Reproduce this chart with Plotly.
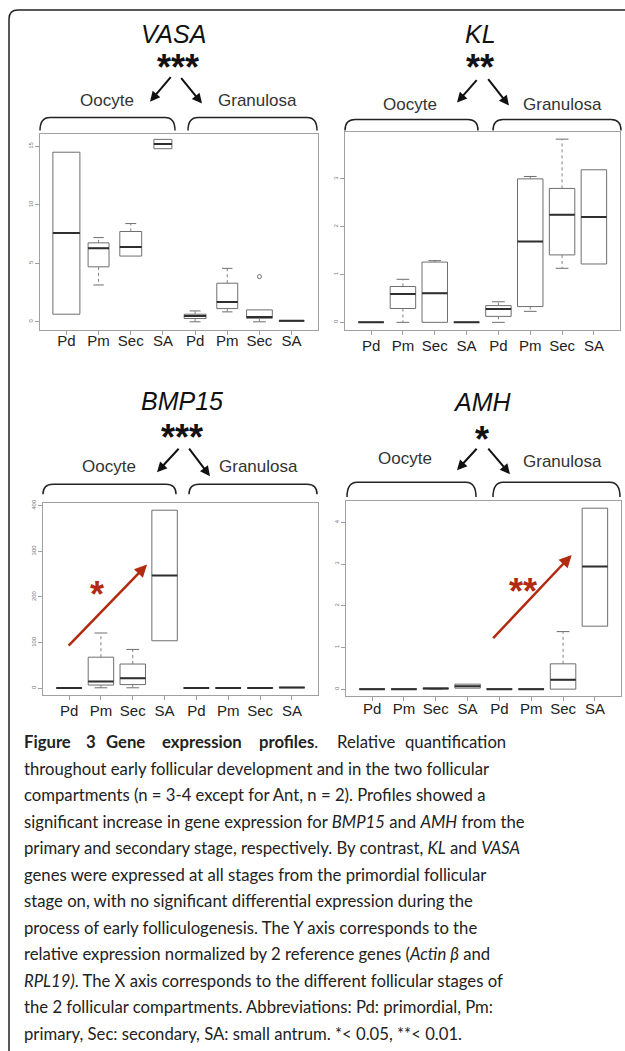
import plotly.graph_objects as go

W, H = 625, 1051

# ---------------- data ----------------
stages = ["Pd", "Pm", "Sec", "SA", "Pd", "Pm", "Sec", "SA"]
positions = [1, 2, 3, 4, 5, 6, 7, 8]
genes = ["VASA", "KL", "BMP15", "AMH"]
gene_stars = ["***", "**", "***", "*"]

vasa_q1 = [0.65, 4.70, 5.62, 14.80, 0.28, 1.13, 0.30, 0.05]
vasa_med = [7.60, 6.30, 6.40, 15.20, 0.50, 1.70, 0.42, 0.08]
vasa_q3 = [14.50, 6.75, 7.72, 15.60, 0.65, 3.30, 1.02, 0.11]
vasa_lo = [0.65, 3.15, 5.62, 14.80, 0.00, 0.85, 0.00, 0.05]
vasa_hi = [14.50, 7.20, 8.40, 15.60, 0.93, 4.57, 1.02, 0.11]
vasa_out_x = [7]
vasa_out_y = [3.86]

kl_q1 = [0.00, 0.29, 0.00, 0.00, 0.125, 0.33, 1.41, 1.22]
kl_med = [0.00, 0.59, 0.61, 0.00, 0.28, 1.69, 2.25, 2.20]
kl_q3 = [0.00, 0.75, 1.26, 0.00, 0.35, 3.00, 2.80, 3.19]
kl_lo = [0.00, 0.00, 0.00, 0.00, 0.00, 0.23, 1.13, 1.22]
kl_hi = [0.00, 0.90, 1.29, 0.00, 0.43, 3.05, 3.83, 3.19]

bmp15_q1 = [0.0, 7.0, 8.0, 104.0, 0.0, 0.0, 0.0, 1.0]
bmp15_med = [0.5, 15.0, 22.0, 247.0, 0.5, 0.5, 0.5, 1.5]
bmp15_q3 = [1.0, 68.0, 53.0, 390.0, 1.0, 1.0, 1.0, 2.0]
bmp15_lo = [0.0, 1.0, 1.0, 104.0, 0.0, 0.0, 0.0, 1.0]
bmp15_hi = [1.0, 121.0, 85.0, 390.0, 1.0, 1.0, 1.0, 2.0]

amh_q1 = [0.000, 0.000, 0.005, 0.024, 0.000, 0.000, 0.000, 1.51]
amh_med = [0.000, 0.000, 0.015, 0.070, 0.000, 0.000, 0.224, 2.94]
amh_q3 = [0.010, 0.010, 0.030, 0.120, 0.010, 0.010, 0.607, 4.34]
amh_lo = [0.000, 0.000, 0.000, 0.024, 0.000, 0.000, 0.000, 1.51]
amh_hi = [0.010, 0.010, 0.030, 0.120, 0.010, 0.010, 1.380, 4.34]

vasa_ticks = [0, 5, 10, 15]
kl_ticks = [0, 1, 2, 3]
bmp15_ticks = [0, 100, 200, 300, 400]
amh_ticks = [0, 1, 2, 3, 4]

caption_lines = [
    None,
    "throughout early follicular development and in the two follicular",
    "compartments (n = 3-4 except for Ant, n = 2). Profiles showed a",
    "significant increase in gene expression for <i>BMP15</i> and <i>AMH</i> from the",
    "primary and secondary stage, respectively. By contrast, <i>KL</i> and <i>VASA</i>",
    "genes were expressed at all stages from the primordial follicular",
    "stage on, with no significant differential expression during the",
    "process of early folliculogenesis. The Y axis corresponds to the",
    "relative expression normalized by 2 reference genes (<i>Actin β</i> and",
    "<i>RPL19)</i>. The X axis corresponds to the different follicular stages of",
    "the 2 follicular compartments. Abbreviations: Pd: primordial, Pm:",
    "primary, Sec: secondary, SA: small antrum. *< 0.05, **< 0.01.",
]
caption_first = [("<b>Figure</b>", 22), ("<b>3</b>", 84), ("<b>Gene</b>", 104),
                 ("<b>expression</b>", 160), ("<b>profiles</b>.", 257),
                 ("Relative", 335), ("quantification", 403)]

# ---------------- layout helpers ----------------
def px(x):
    return x / W

def py(y):
    return 1 - y / H

panels = [
    dict(q1=vasa_q1, med=vasa_med, q3=vasa_q3, lo=vasa_lo, hi=vasa_hi,
         ticks=vasa_ticks, yr=[-0.68, 16.1], box=(40, 318, 130, 327), standoff=-7,
         widths=[0.84, 0.65, 0.68, 0.56, 0.68, 0.65, 0.80, 0.78],
         out=(vasa_out_x, vasa_out_y)),
    dict(q1=kl_q1, med=kl_med, q3=kl_q3, lo=kl_lo, hi=kl_hi,
         ticks=kl_ticks, yr=[-0.155, 3.99], box=(345, 620, 128, 327), standoff=-2,
         widths=[0.8] * 8, out=None),
    dict(q1=bmp15_q1, med=bmp15_med, q3=bmp15_q3, lo=bmp15_lo, hi=bmp15_hi,
         ticks=bmp15_ticks, yr=[-15.6, 405.6], box=(43, 318, 501, 694), standoff=-2,
         widths=[0.8] * 8, out=None),
    dict(q1=amh_q1, med=amh_med, q3=amh_q3, lo=amh_lo, hi=amh_hi,
         ticks=amh_ticks, yr=[-0.173, 4.51], box=(346, 621, 499, 695), standoff=-5,
         widths=[0.8] * 8, out=None),
]

# decorations per panel (pixel positions)
deco = [
    dict(title=(173, 30), stars=(178, 64), la=((172, 72), (150, 98)), ra=((180, 73), (202, 100)),
         ooc=(107, 97), gra=(257, 97), bl=(40, 175), br=(188, 317), bt=114, bb=127),
    dict(title=(481, 30), stars=(480, 64), la=((478, 75), (457, 99)), ra=((487, 74), (509, 102)),
         ooc=(410, 101), gra=(562, 101), bl=(345, 478), br=(493, 621), bt=116, bb=127),
    dict(title=(182, 399), stars=(182, 435), la=((180, 445), (157, 470)), ra=((188, 445), (210, 474)),
         ooc=(109, 464), gra=(258, 464), bl=(43, 176), br=(189, 317), bt=482, bb=492),
    dict(title=(482, 400), stars=(482, 437), la=((478, 445), (457, 468)), ra=((487, 445), (510, 472)),
         ooc=(405, 456), gra=(562, 459), bl=(347, 476), br=(493, 620), bt=480, bb=495),
]

BOX_LINE = "#6e6e6e"
MED_LINE = "#2e2e2e"
WHISK = "#808080"
FRAME = "#a0a0a0"
RED = "#b22a10"
FONT = "Liberation Sans, Arial, sans-serif"

fig = go.Figure()
layout_axes = {}
for i, p in enumerate(panels):
    n = "" if i == 0 else str(i + 1)
    xa, ya = "x" + n, "y" + n
    for j, pos in enumerate(positions):
        fig.add_trace(go.Box(
            x=[pos], q1=[p["q1"][j]], median=[p["med"][j]], q3=[p["q3"][j]],
            lowerfence=[p["q1"][j]], upperfence=[p["q3"][j]],
            width=p["widths"][j], fillcolor="white",
            line=dict(color=BOX_LINE, width=1), whiskerwidth=0,
            boxpoints=False, showlegend=False, hoverinfo="skip",
            xaxis=xa, yaxis=ya))
    mx, my = [], []
    wx, wy = [], []
    cx, cy = [], []
    for j, pos in enumerate(positions):
        hw = p["widths"][j] / 2
        mx += [pos - hw, pos + hw, None]
        my += [p["med"][j], p["med"][j], None]
        if p["hi"][j] > p["q3"][j]:
            wx += [pos, pos, None]
            wy += [p["q3"][j], p["hi"][j], None]
            cx += [pos - hw / 2, pos + hw / 2, None]
            cy += [p["hi"][j], p["hi"][j], None]
        if p["lo"][j] < p["q1"][j]:
            wx += [pos, pos, None]
            wy += [p["q1"][j], p["lo"][j], None]
            cx += [pos - hw / 2, pos + hw / 2, None]
            cy += [p["lo"][j], p["lo"][j], None]
    fig.add_trace(go.Scatter(x=wx, y=wy, mode="lines", line=dict(color=WHISK, width=1, dash="dot"),
                             showlegend=False, hoverinfo="skip", xaxis=xa, yaxis=ya))
    fig.add_trace(go.Scatter(x=cx, y=cy, mode="lines", line=dict(color=BOX_LINE, width=1),
                             showlegend=False, hoverinfo="skip", xaxis=xa, yaxis=ya))
    fig.add_trace(go.Scatter(x=mx, y=my, mode="lines", line=dict(color=MED_LINE, width=2),
                             showlegend=False, hoverinfo="skip", xaxis=xa, yaxis=ya))
    if p["out"]:
        fig.add_trace(go.Scatter(x=p["out"][0], y=p["out"][1], mode="markers",
                                 marker=dict(symbol="circle-open", size=4, color=BOX_LINE),
                                 showlegend=False, hoverinfo="skip", xaxis=xa, yaxis=ya))
    x0, x1, y0, y1 = p["box"]
    layout_axes["xaxis" + n] = dict(
        domain=[px(x0), px(x1)], range=[0.18, 8.82], anchor=ya,
        tickmode="array", tickvals=positions, ticktext=stages,
        ticks="outside", ticklen=4, tickcolor=FRAME,
        ticklabelstandoff=p["standoff"],
        tickfont=dict(family=FONT, size=15, color="#222"),
        showline=True, mirror=True, linecolor=FRAME, linewidth=1,
        showgrid=False, zeroline=False, fixedrange=True)
    layout_axes["yaxis" + n] = dict(
        domain=[py(y1), py(y0)], range=p["yr"], anchor=xa,
        tickmode="array", tickvals=p["ticks"], ticktext=[str(t) for t in p["ticks"]],
        tickangle=-90, ticks="outside", ticklen=4, tickcolor=FRAME,
        tickfont=dict(family=FONT, size=6, color="#777"),
        showline=True, mirror=True, linecolor=FRAME, linewidth=1,
        showgrid=False, zeroline=False, fixedrange=True)

annotations = []
shapes = []

def brace(x0, x1, yt, yb, r=10):
    return dict(type="path", xref="paper", yref="paper",
                path=(f"M {px(x0)},{py(yb)} Q {px(x0)},{py(yt)} {px(x0 + r)},{py(yt)} "
                      f"L {px(x1 - r)},{py(yt)} Q {px(x1)},{py(yt)} {px(x1)},{py(yb)}"),
                line=dict(color="#222", width=1.5))

for i, d in enumerate(deco):
    annotations.append(dict(x=px(d["title"][0]), y=py(d["title"][1]), xref="paper", yref="paper",
                            text=f"<i>{genes[i]}</i>", showarrow=False,
                            font=dict(family=FONT, size=25, color="#111"),
                            xanchor="center", yanchor="middle"))
    annotations.append(dict(x=px(d["stars"][0]), y=py(d["stars"][1]), xref="paper", yref="paper",
                            text=f"<b>{gene_stars[i]}</b>", showarrow=False,
                            font=dict(family=FONT, size=36, color="#111"),
                            xanchor="center", yanchor="middle"))
    for (tail, head) in (d["la"], d["ra"]):
        annotations.append(dict(x=px(head[0]), y=py(head[1]), xref="paper", yref="paper",
                                ax=tail[0] - head[0], ay=tail[1] - head[1], text="",
                                showarrow=True, arrowhead=2, arrowsize=1, arrowwidth=2,
                                arrowcolor="#111"))
    annotations.append(dict(x=px(d["ooc"][0]), y=py(d["ooc"][1]), xref="paper", yref="paper",
                            text="Oocyte", showarrow=False,
                            font=dict(family=FONT, size=17, color="#333"),
                            xanchor="center", yanchor="middle"))
    annotations.append(dict(x=px(d["gra"][0]), y=py(d["gra"][1]), xref="paper", yref="paper",
                            text="Granulosa", showarrow=False,
                            font=dict(family=FONT, size=17, color="#333"),
                            xanchor="center", yanchor="middle"))
    shapes.append(brace(d["bl"][0], d["bl"][1], d["bt"], d["bb"]))
    shapes.append(brace(d["br"][0], d["br"][1], d["bt"], d["bb"]))

# red significance arrows (in data coordinates)
annotations.append(dict(x=3.45, y=271, xref="x3", yref="y3", ax=0.94, ay=90,
                        axref="x3", ayref="y3", text="", showarrow=True,
                        arrowhead=2, arrowsize=1, arrowwidth=2.5, arrowcolor=RED))
annotations.append(dict(x=1.87, y=206, xref="x3", yref="y3", text="<b>*</b>", showarrow=False,
                        font=dict(family=FONT, size=36, color=RED), xanchor="center", yanchor="middle"))
annotations.append(dict(x=7.27, y=3.22, xref="x4", yref="y4", ax=4.76, ay=1.19,
                        axref="x4", ayref="y4", text="", showarrow=True,
                        arrowhead=2, arrowsize=1, arrowwidth=2.5, arrowcolor=RED))
annotations.append(dict(x=5.75, y=2.35, xref="x4", yref="y4", text="<b>**</b>", showarrow=False,
                        font=dict(family=FONT, size=36, color=RED), xanchor="center", yanchor="middle"))

# outer frame
shapes.append(dict(type="path", xref="paper", yref="paper",
                   path=(f"M {px(9)},{py(1060)} L {px(9)},{py(15)} Q {px(9)},{py(6)} {px(18)},{py(6)} "
                         f"L {px(640)},{py(6)}"),
                   line=dict(color="#222", width=1.5)))

# caption
CAP_FONT = "Lato, Noto Sans, sans-serif"
CAP_SIZE = 16.7
line_y0, line_dy = 741, 26.6
for word, xw in caption_first:
    annotations.append(dict(x=px(xw), y=py(line_y0), xref="paper", yref="paper", text=word,
                            showarrow=False, xanchor="left", yanchor="middle",
                            font=dict(family=CAP_FONT, size=CAP_SIZE, color="#222")))
for k, line in enumerate(caption_lines):
    if line is None:
        continue
    annotations.append(dict(x=px(22), y=py(line_y0 + k * line_dy), xref="paper", yref="paper",
                            text=line, showarrow=False, xanchor="left", yanchor="middle",
                            font=dict(family=CAP_FONT, size=CAP_SIZE, color="#222")))

fig.update_layout(width=W, height=H, margin=dict(l=0, r=0, t=0, b=0),
                  paper_bgcolor="white", plot_bgcolor="white",
                  annotations=annotations, shapes=shapes, **layout_axes)

fig.write_html("out.html", config={"displayModeBar": False},
               post_script="document.body.style.margin='0';document.body.style.padding='0';")
